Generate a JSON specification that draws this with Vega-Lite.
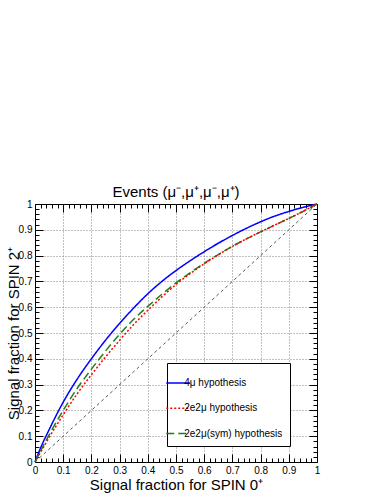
{
  "$schema": "https://vega.github.io/schema/vega-lite/v6.json",
  "width": 282,
  "height": 258,
  "autosize": {"type": "none"},
  "padding": {"left": 35, "top": 204, "right": 65, "bottom": 32},
  "background": "white",
  "config": {"view": {"stroke": "black", "strokeWidth": 1}, "font": "Liberation Sans"},
  "title": {"text": "Events (μ⁻,μ⁺,μ⁻,μ⁺)", "fontSize": 15, "fontWeight": "normal", "font": "Liberation Sans", "color": "black", "baseline": "alphabetic", "offset": -13, "anchor": "middle"},
  "datasets": {
    "diag": [{"x": 0, "y": 0}, {"x": 1, "y": 1}],
    "curves": [
      {"hyp": "4μ hypothesis", "s0": 0, "s2": 0},
      {"hyp": "4μ hypothesis", "s0": 0.02, "s2": 0.055},
      {"hyp": "4μ hypothesis", "s0": 0.05, "s2": 0.125},
      {"hyp": "4μ hypothesis", "s0": 0.1, "s2": 0.232},
      {"hyp": "4μ hypothesis", "s0": 0.15, "s2": 0.322},
      {"hyp": "4μ hypothesis", "s0": 0.2, "s2": 0.4},
      {"hyp": "4μ hypothesis", "s0": 0.25, "s2": 0.472},
      {"hyp": "4μ hypothesis", "s0": 0.3, "s2": 0.537},
      {"hyp": "4μ hypothesis", "s0": 0.35, "s2": 0.597},
      {"hyp": "4μ hypothesis", "s0": 0.4, "s2": 0.652},
      {"hyp": "4μ hypothesis", "s0": 0.45, "s2": 0.7},
      {"hyp": "4μ hypothesis", "s0": 0.5, "s2": 0.742},
      {"hyp": "4μ hypothesis", "s0": 0.55, "s2": 0.78},
      {"hyp": "4μ hypothesis", "s0": 0.6, "s2": 0.815},
      {"hyp": "4μ hypothesis", "s0": 0.65, "s2": 0.848},
      {"hyp": "4μ hypothesis", "s0": 0.7, "s2": 0.878},
      {"hyp": "4μ hypothesis", "s0": 0.75, "s2": 0.906},
      {"hyp": "4μ hypothesis", "s0": 0.8, "s2": 0.931},
      {"hyp": "4μ hypothesis", "s0": 0.85, "s2": 0.953},
      {"hyp": "4μ hypothesis", "s0": 0.9, "s2": 0.971},
      {"hyp": "4μ hypothesis", "s0": 0.95, "s2": 0.987},
      {"hyp": "4μ hypothesis", "s0": 1, "s2": 1},
      {"hyp": "2e2μ(sym) hypothesis", "s0": 0, "s2": 0},
      {"hyp": "2e2μ(sym) hypothesis", "s0": 0.02, "s2": 0.043},
      {"hyp": "2e2μ(sym) hypothesis", "s0": 0.05, "s2": 0.105},
      {"hyp": "2e2μ(sym) hypothesis", "s0": 0.1, "s2": 0.2},
      {"hyp": "2e2μ(sym) hypothesis", "s0": 0.15, "s2": 0.286},
      {"hyp": "2e2μ(sym) hypothesis", "s0": 0.2, "s2": 0.36},
      {"hyp": "2e2μ(sym) hypothesis", "s0": 0.25, "s2": 0.43},
      {"hyp": "2e2μ(sym) hypothesis", "s0": 0.3, "s2": 0.495},
      {"hyp": "2e2μ(sym) hypothesis", "s0": 0.35, "s2": 0.553},
      {"hyp": "2e2μ(sym) hypothesis", "s0": 0.4, "s2": 0.603},
      {"hyp": "2e2μ(sym) hypothesis", "s0": 0.45, "s2": 0.65},
      {"hyp": "2e2μ(sym) hypothesis", "s0": 0.5, "s2": 0.694},
      {"hyp": "2e2μ(sym) hypothesis", "s0": 0.55, "s2": 0.733},
      {"hyp": "2e2μ(sym) hypothesis", "s0": 0.6, "s2": 0.77},
      {"hyp": "2e2μ(sym) hypothesis", "s0": 0.65, "s2": 0.804},
      {"hyp": "2e2μ(sym) hypothesis", "s0": 0.7, "s2": 0.836},
      {"hyp": "2e2μ(sym) hypothesis", "s0": 0.75, "s2": 0.865},
      {"hyp": "2e2μ(sym) hypothesis", "s0": 0.8, "s2": 0.892},
      {"hyp": "2e2μ(sym) hypothesis", "s0": 0.85, "s2": 0.918},
      {"hyp": "2e2μ(sym) hypothesis", "s0": 0.9, "s2": 0.944},
      {"hyp": "2e2μ(sym) hypothesis", "s0": 0.95, "s2": 0.971},
      {"hyp": "2e2μ(sym) hypothesis", "s0": 1, "s2": 1},
      {"hyp": "2e2μ hypothesis", "s0": 0, "s2": 0},
      {"hyp": "2e2μ hypothesis", "s0": 0.02, "s2": 0.038},
      {"hyp": "2e2μ hypothesis", "s0": 0.05, "s2": 0.095},
      {"hyp": "2e2μ hypothesis", "s0": 0.1, "s2": 0.183},
      {"hyp": "2e2μ hypothesis", "s0": 0.15, "s2": 0.265},
      {"hyp": "2e2μ hypothesis", "s0": 0.2, "s2": 0.338},
      {"hyp": "2e2μ hypothesis", "s0": 0.25, "s2": 0.407},
      {"hyp": "2e2μ hypothesis", "s0": 0.3, "s2": 0.472},
      {"hyp": "2e2μ hypothesis", "s0": 0.35, "s2": 0.533},
      {"hyp": "2e2μ hypothesis", "s0": 0.4, "s2": 0.588},
      {"hyp": "2e2μ hypothesis", "s0": 0.45, "s2": 0.64},
      {"hyp": "2e2μ hypothesis", "s0": 0.5, "s2": 0.688},
      {"hyp": "2e2μ hypothesis", "s0": 0.55, "s2": 0.73},
      {"hyp": "2e2μ hypothesis", "s0": 0.6, "s2": 0.768},
      {"hyp": "2e2μ hypothesis", "s0": 0.65, "s2": 0.803},
      {"hyp": "2e2μ hypothesis", "s0": 0.7, "s2": 0.836},
      {"hyp": "2e2μ hypothesis", "s0": 0.75, "s2": 0.865},
      {"hyp": "2e2μ hypothesis", "s0": 0.8, "s2": 0.892},
      {"hyp": "2e2μ hypothesis", "s0": 0.85, "s2": 0.918},
      {"hyp": "2e2μ hypothesis", "s0": 0.9, "s2": 0.944},
      {"hyp": "2e2μ hypothesis", "s0": 0.95, "s2": 0.971},
      {"hyp": "2e2μ hypothesis", "s0": 1, "s2": 1}
    ]
  },
  "layer": [
    {
      "data": {"name": "diag"},
      "mark": {"type": "line", "color": "#555555", "strokeWidth": 1, "strokeDash": [3, 3]},
      "encoding": {
        "x": {
          "field": "x", "type": "quantitative",
          "scale": {"domain": [0, 1], "nice": false, "zero": false},
          "axis": {
            "orient": "bottom",
            "values": [0, 0.1, 0.2, 0.3, 0.4, 0.5, 0.6, 0.7, 0.8, 0.9, 1],
            "format": "~g",
            "ticks": false, "domain": false,
            "grid": true, "gridColor": "#808080", "gridDash": [1, 2], "gridWidth": 1,
            "gridOpacity": {"condition": {"test": "datum.value > 0.001 && datum.value < 0.999", "value": 1}, "value": 0},
            "labelFontSize": 10, "labelFont": "Liberation Sans", "labelColor": "black",
            "labelPadding": 3, "labelFlush": false, "labelOverlap": false,
            "title": "Signal fraction for SPIN 0⁺",
            "titleFontSize": 15, "titleFontWeight": "normal", "titleColor": "black", "titleFont": "Liberation Sans",
            "titleX": 141, "titleY": 27, "titleBaseline": "alphabetic", "titleAlign": "center"
          }
        },
        "y": {
          "field": "y", "type": "quantitative",
          "scale": {"domain": [0, 1], "nice": false, "zero": false},
          "axis": {
            "orient": "left",
            "values": [0, 0.1, 0.2, 0.3, 0.4, 0.5, 0.6, 0.7, 0.8, 0.9, 1],
            "format": "~g",
            "ticks": false, "domain": false,
            "grid": true, "gridColor": "#808080", "gridDash": [1, 2], "gridWidth": 1,
            "gridOpacity": {"condition": {"test": "datum.value > 0.001 && datum.value < 0.999", "value": 1}, "value": 0},
            "labelFontSize": 10, "labelFont": "Liberation Sans", "labelColor": "black",
            "labelPadding": 3, "labelFlush": false, "labelOverlap": false,
            "title": "Signal fraction for SPIN 2⁺",
            "titleFontSize": 15, "titleFontWeight": "normal", "titleColor": "black", "titleFont": "Liberation Sans",
            "titleX": -17, "titleY": 129, "titleAngle": -90, "titleBaseline": "alphabetic", "titleAlign": "center"
          }
        }
      }
    },
    {
      "data": {"name": "curves"},
      "mark": {"type": "line", "strokeWidth": 1.5, "interpolate": "monotone"},
      "encoding": {
        "x": {
          "field": "s0", "type": "quantitative",
          "scale": {"domain": [0, 1], "nice": false, "zero": false},
          "axis": {
            "orient": "bottom",
            "values": [0,0.02,0.04,0.06,0.08,0.1,0.12,0.14,0.16,0.18,0.2,0.22,0.24,0.26,0.28,0.3,0.32,0.34,0.36,0.38,0.4,0.42,0.44,0.46,0.48,0.5,0.52,0.54,0.56,0.58,0.6,0.62,0.64,0.66,0.68,0.7,0.72,0.74,0.76,0.78,0.8,0.82,0.84,0.86,0.88,0.9,0.92,0.94,0.96,0.98,1],
            "labels": false, "grid": false, "domain": false, "ticks": true,
            "tickColor": "black", "tickWidth": 1,
            "tickSize": {"condition": {"test": "abs(datum.value*10 - round(datum.value*10)) < 0.01", "value": -8}, "value": -4},
            "title": null
          }
        },
        "y": {
          "field": "s2", "type": "quantitative",
          "scale": {"domain": [0, 1], "nice": false, "zero": false},
          "axis": {
            "orient": "left",
            "values": [0,0.02,0.04,0.06,0.08,0.1,0.12,0.14,0.16,0.18,0.2,0.22,0.24,0.26,0.28,0.3,0.32,0.34,0.36,0.38,0.4,0.42,0.44,0.46,0.48,0.5,0.52,0.54,0.56,0.58,0.6,0.62,0.64,0.66,0.68,0.7,0.72,0.74,0.76,0.78,0.8,0.82,0.84,0.86,0.88,0.9,0.92,0.94,0.96,0.98,1],
            "labels": false, "grid": false, "domain": false, "ticks": true,
            "tickColor": "black", "tickWidth": 1,
            "tickSize": {"condition": {"test": "abs(datum.value*10 - round(datum.value*10)) < 0.01", "value": -8}, "value": -4},
            "title": null
          }
        },
        "color": {
          "field": "hyp", "type": "nominal",
          "scale": {"domain": ["4μ hypothesis", "2e2μ hypothesis", "2e2μ(sym) hypothesis"], "range": ["#0000ff", "#ff0000", "#1f7f1f"]},
          "legend": {"orient": "none", "legendX": 132, "legendY": 159, "columns": 1, "title": null, "strokeColor": "black", "fillColor": "white", "padding": 7, "symbolType": "stroke", "symbolSize": 576, "symbolStrokeWidth": 1.5, "symbolOffset": -8.75, "labelFontSize": 10, "labelFont": "Liberation Sans", "labelColor": "black", "labelOffset": -7, "rowPadding": 7.3, "labelLimit": 300}
        },
        "strokeDash": {
          "field": "hyp", "type": "nominal",
          "scale": {"domain": ["4μ hypothesis", "2e2μ hypothesis", "2e2μ(sym) hypothesis"], "range": [[1, 0], [2, 2], [8, 4]]},
          "legend": {"orient": "none", "legendX": 132, "legendY": 159, "columns": 1, "title": null, "strokeColor": "black", "fillColor": "white", "padding": 7, "symbolType": "stroke", "symbolSize": 576, "symbolStrokeWidth": 1.5, "symbolOffset": -8.75, "labelFontSize": 10, "labelFont": "Liberation Sans", "labelColor": "black", "labelOffset": -7, "rowPadding": 7.3, "labelLimit": 300}
        }
      }
    },
    {
      "data": {"name": "diag"},
      "mark": {"type": "line", "opacity": 0},
      "encoding": {
        "x": {
          "field": "x", "type": "quantitative",
          "scale": {"domain": [0, 1], "nice": false, "zero": false},
          "axis": {
            "orient": "top",
            "values": [0,0.02,0.04,0.06,0.08,0.1,0.12,0.14,0.16,0.18,0.2,0.22,0.24,0.26,0.28,0.3,0.32,0.34,0.36,0.38,0.4,0.42,0.44,0.46,0.48,0.5,0.52,0.54,0.56,0.58,0.6,0.62,0.64,0.66,0.68,0.7,0.72,0.74,0.76,0.78,0.8,0.82,0.84,0.86,0.88,0.9,0.92,0.94,0.96,0.98,1],
            "labels": false, "grid": false, "domain": false, "ticks": true,
            "tickColor": "black", "tickWidth": 1,
            "tickSize": {"condition": {"test": "abs(datum.value*10 - round(datum.value*10)) < 0.01", "value": -8}, "value": -4},
            "title": null
          }
        },
        "y": {
          "field": "y", "type": "quantitative",
          "scale": {"domain": [0, 1], "nice": false, "zero": false},
          "axis": {
            "orient": "right",
            "values": [0,0.02,0.04,0.06,0.08,0.1,0.12,0.14,0.16,0.18,0.2,0.22,0.24,0.26,0.28,0.3,0.32,0.34,0.36,0.38,0.4,0.42,0.44,0.46,0.48,0.5,0.52,0.54,0.56,0.58,0.6,0.62,0.64,0.66,0.68,0.7,0.72,0.74,0.76,0.78,0.8,0.82,0.84,0.86,0.88,0.9,0.92,0.94,0.96,0.98,1],
            "labels": false, "grid": false, "domain": false, "ticks": true,
            "tickColor": "black", "tickWidth": 1,
            "tickSize": {"condition": {"test": "abs(datum.value*10 - round(datum.value*10)) < 0.01", "value": -8}, "value": -4},
            "title": null
          }
        }
      }
    }
  ],
  "resolve": {"axis": {"x": "independent", "y": "independent"}}
}
